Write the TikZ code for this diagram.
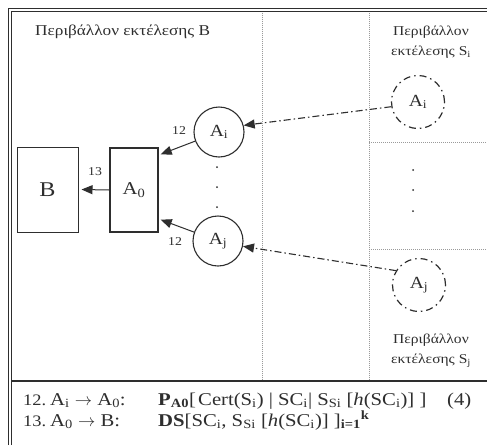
\documentclass[tikz,border=0pt]{standalone}
\usepackage{fontspec}
\setmainfont{Liberation Serif}[FakeStretch=1.15]
\usetikzlibrary{arrows.meta}
\definecolor{ink}{HTML}{2E2E2E}
\definecolor{dotc}{HTML}{9A9A9A}
\tikzset{
  lbl/.style={font=\fontsize{15}{18}\selectfont, text=ink, inner sep=0pt},
  btxt/.style={font=\fontsize{18}{21}\selectfont, text=ink, inner sep=0pt, anchor=base west},
  num/.style={font=\fontsize{16}{19}\selectfont, text=ink, inner sep=0pt, anchor=base west},
  rlbl/.style={font=\fontsize{13.5}{16}\selectfont, text=ink, inner sep=0pt, anchor=base},
  small/.style={font=\fontsize{12}{14}\selectfont, text=ink, inner sep=0pt},
  solidc/.style={circle, draw=ink, line width=1.1pt, minimum size=50pt, inner sep=0pt, font=\fontsize{17}{20}\selectfont, text=ink},
  dashc/.style={circle, draw=ink, line width=1.2pt, minimum size=53pt, inner sep=0pt, font=\fontsize{17}{20}\selectfont, text=ink,
     dash pattern=on 7pt off 4pt on 1.5pt off 4pt},
  boxn/.style={rectangle, draw=ink, inner sep=0pt, text=ink},
  arr/.style={draw=ink, line width=1pt, -{Triangle[length=11pt,width=9pt]}},
  dda/.style={draw=ink, line width=1.1pt, dash pattern=on 7pt off 3pt on 1.5pt off 3pt, -{Triangle[length=11pt,width=9pt]}},
  dotl/.style={draw=dotc, line width=0.8pt, dash pattern=on 0.8pt off 1.2pt},
  dotn/.style={circle, fill=ink, inner sep=0pt, minimum size=2pt},
}
\begin{document}
\begin{tikzpicture}[x=1pt,y=-1pt]
\useasboundingbox (0,0) rectangle (487,445);
\fill[white] (0,0) rectangle (487,445);
% frame
\draw[ink, line width=0.8pt] (8.5,445) -- (8.5,8.5) -- (487,8.5);
\draw[ink, line width=1.2pt] (11.5,445) -- (11.5,11.5) -- (487,11.5);
\draw[ink, line width=1.6pt] (11.5,381) -- (487,381);
% dotted separators
\draw[dotl] (262,12.5) -- (262,380);
\draw[dotl] (369,12.5) -- (369,380);
\draw[dotl] (369,142) -- (487,142);
\draw[dotl] (369,249) -- (487,249);
% titles
\node[lbl, anchor=base west] (tB) at (35,35) {Περιβάλλον εκτέλεσης B};
\node[rlbl] (tSi1) at (431,35) {Περιβάλλον};
\node[rlbl] (tSi2) at (431,55) {εκτέλεσης S\textsubscript{i}};
\node[rlbl] (tSj1) at (431,343) {Περιβάλλον};
\node[rlbl] (tSj2) at (431,363) {εκτέλεσης S\textsubscript{j}};
% boxes
\node[boxn, line width=1pt, minimum width=61pt, minimum height=85pt, font=\fontsize{21}{24}\selectfont] (B) at (47.5,189.5) {B};
\node[boxn, line width=1.4pt, minimum width=48pt, minimum height=84pt, font=\fontsize{18}{20}\selectfont] (A0) at (134,190) {A\textsubscript{0}};
% circles
\node[solidc] (Ai) at (219,132) {A\textsubscript{i}};
\node[solidc] (Aj) at (218,241) {A\textsubscript{j}};
\node[dashc] (Si) at (418,102) {A\textsubscript{i}};
\node[dashc] (Sj) at (419,285) {A\textsubscript{j}};
% dots
\node[dotn] (d1) at (217,167) {};
\node[dotn] (d2) at (217,187) {};
\node[dotn] (d3) at (217,207) {};
\node[dotn] (e1) at (413,170) {};
\node[dotn] (e2) at (413,190) {};
\node[dotn] (e3) at (413,211) {};
% arrows
\draw[arr] (A0.west) -- ([xshift=3pt]B.east);
\draw[arr] (Ai) -- ([shift={(2,7)}]A0.north east);
\draw[arr] (Aj) -- ([shift={(2,-13)}]A0.south east);
\draw[dda] (Si.190) -- (Ai.15);
\draw[dda] (Sj.148) -- (Aj.-12);
% labels
\node[small] (l12a) at (179,131) {12};
\node[small] (l13) at (95,172) {13};
\node[small] (l12b) at (175,242) {12};
% bottom text, line 1
\node[num] (r1a) at (23,405) {12.};
\node[btxt] (r1b) at (50,405) {A\textsubscript{i} $\rightarrow$ A\textsubscript{0}:};
\node[btxt] (r1c) at (158,405) {\textbf{P\textsubscript{A0}}[};
\node[btxt] (r1d) at (198,405) {Cert(S\textsubscript{i}) | SC\textsubscript{i}| S\textsubscript{Si} [\textit{h}(SC\textsubscript{i})] ]};
\node[btxt] (r1e) at (447,405) {(4)};
% bottom text, line 2
\node[num] (r2a) at (23,426) {13.};
\node[btxt] (r2b) at (50,426) {A\textsubscript{0} $\rightarrow$ B:};
\node[btxt] (r2c) at (158,426) {\textbf{DS}[SC\textsubscript{i}, S\textsubscript{Si} [\textit{h}(SC\textsubscript{i})] ]\textsubscript{\textbf{i=1}}\textsuperscript{\textbf{k}}};
\end{tikzpicture}
\end{document}
